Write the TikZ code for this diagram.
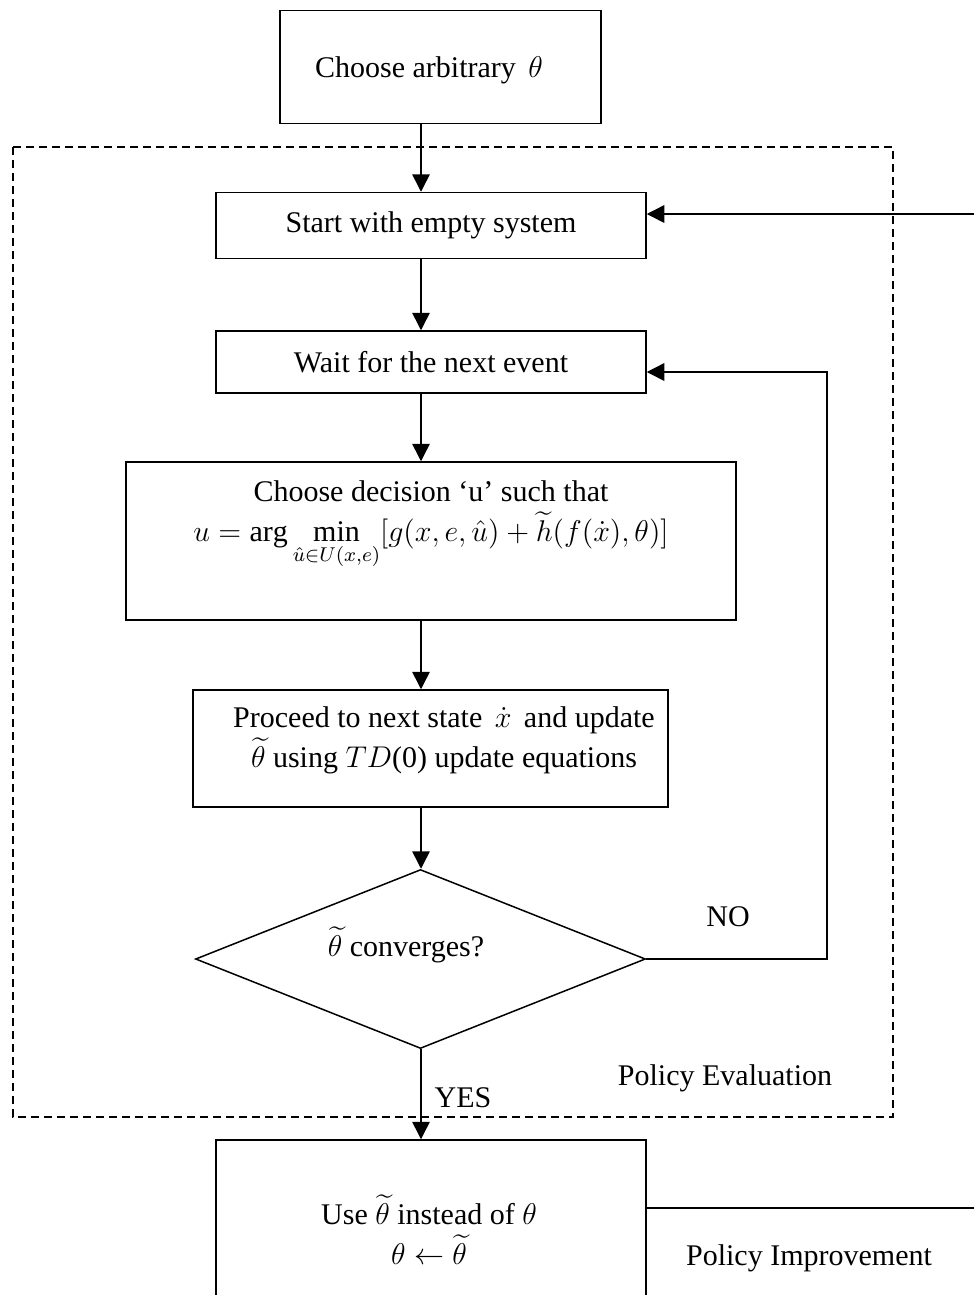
\documentclass[tikz,border=0pt,12pt]{standalone}
\usepackage{fontspec}
\setmainfont{Liberation Serif}
\usepackage{amsmath}
\usetikzlibrary{arrows.meta,shapes.geometric}

\begin{document}
\begin{tikzpicture}[
    x=0.4pt, y=-0.4pt,
    box/.style={draw, rectangle, inner sep=0pt, line width=0.6pt},
    cond/.style={draw, diamond, inner sep=0pt, line width=0.6pt},
    txt/.style={align=center, font=\fontsize{12pt}{16pt}\selectfont},
    arr/.style={-{Triangle[length=7pt, width=7pt]}, line width=0.6pt, black},
    conn/.style={line width=0.6pt, black},
    frame/.style={dash pattern=on 3.2pt off 2pt, line width=0.6pt},
]
\useasboundingbox (0,0) rectangle (974,1295);

% Policy evaluation frame
\draw[frame] (13,147) rectangle (893,1117);

% Boxes
\node[box, minimum width=128.4pt, minimum height=45.2pt] (choose) at (440.5,67) {};
\node[txt] (choosetxt) at (429,70) {Choose arbitrary\, $\theta$};
\node[box, txt, minimum width=172pt, minimum height=26.4pt] (start) at (431,225.5) {Start with empty system};
\node[box, txt, minimum width=172pt, minimum height=24.8pt] (wait) at (431,362) {Wait for the next event};
\node[box, minimum width=244pt, minimum height=63.2pt] (decide) at (431,541) {};
\node[txt] (decidetxt) at (431,525) {Choose decision `u' such that\\
    $u=\arg\min\limits_{\hat{u}\in U(x,e)}[g(x,e,\hat{u})+\widetilde{h}(f(\dot{x}),\theta)]$};
\node[box, minimum width=190pt, minimum height=46.8pt] (proceed) at (430.5,748.5) {};
\node[txt] (proceedtxt) at (444,740) {Proceed to next state\, $\dot{x}$\, and update\\
    $\widetilde{\theta}$ using $TD$(0) update equations};
\node[cond, minimum width=180pt, minimum height=71.6pt] (check) at (420.5,959) {};
\node[txt] (checktxt) at (406,945) {$\widetilde{\theta}$ converges?};
\node[box, minimum width=172pt, minimum height=80pt] (improve) at (431,1240) {};
\node[txt] (improvetxt) at (429,1230) {Use $\widetilde{\theta}$ instead of $\theta$\\
    $\theta\leftarrow\widetilde{\theta}$};

% Labels
\node[txt] (nolbl) at (728,917) {NO};
\node[txt] (yeslbl) at (463,1098) {YES};
\node[txt] (evallbl) at (725,1078) {Policy Evaluation};
\node[txt] (imprlbl) at (809,1258) {Policy Improvement};

% Main flow
\coordinate (spine) at (421,0);
\draw[arr] (choose.south -| spine) -- (start.north -| spine);
\draw[arr] (start.south -| spine) -- (wait.north -| spine);
\draw[arr] (wait.south -| spine) -- (decide.north -| spine);
\draw[arr] (decide.south -| spine) -- (proceed.north -| spine);
\draw[arr] (proceed.south -| spine) -- (check.north -| spine);
\draw[arr] (check.south -| spine) -- (improve.north -| spine);

% Loops
\coordinate (noturn) at (827,372);
\draw[arr] (check.east) -| (noturn) -- (noturn -| wait.east);
\coordinate (backin) at (974,214);
\coordinate (backout) at (974,1208);
\draw[arr] (backin) -- (backin -| start.east);
\draw[conn] (improve.east |- backout) -- (backout);
\end{tikzpicture}
\end{document}
